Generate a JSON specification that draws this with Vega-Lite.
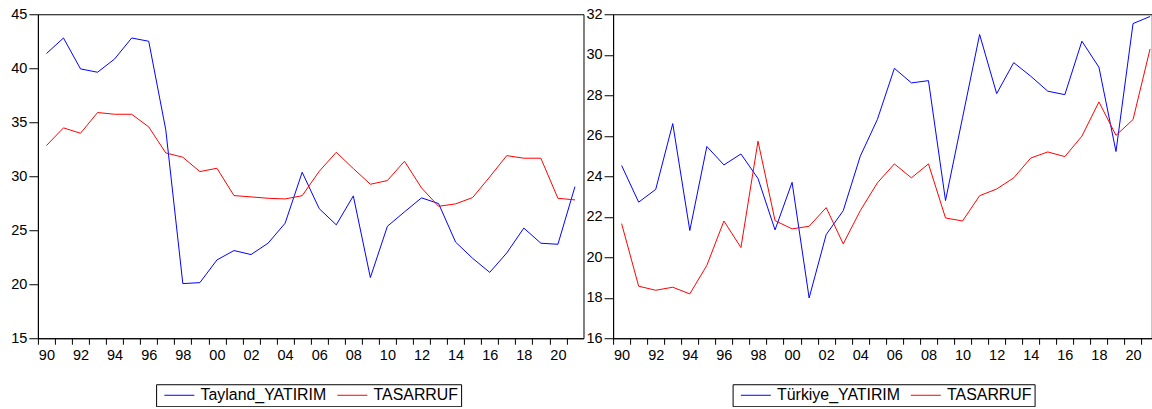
{
  "$schema": "https://vega.github.io/schema/vega-lite/v6.json",
  "padding": {"left": 9.9, "top": 5.25, "right": 0, "bottom": 0},
  "background": "white",
  "spacing": 0.2,
  "config": {
    "font": "Liberation Sans",
    "view": {"stroke": "black", "strokeWidth": 1},
    "axis": {"domainColor": "black", "tickColor": "black", "labelColor": "black", "labelFont": "Liberation Sans", "labelFontSize": 14.5, "grid": false, "title": null, "domainWidth": 1, "tickWidth": 1, "minExtent": 0},
    "legend": {"labelFont": "Liberation Sans", "labelFontSize": 15.9, "labelColor": "black"}
  },
  "datasets": {
    "thai": [
      {"year":1990,"series":"Tayland_YATIRIM","value":41.36},{"year":1991,"series":"Tayland_YATIRIM","value":42.8},{"year":1992,"series":"Tayland_YATIRIM","value":39.94},{"year":1993,"series":"Tayland_YATIRIM","value":39.63},{"year":1994,"series":"Tayland_YATIRIM","value":40.86},{"year":1995,"series":"Tayland_YATIRIM","value":42.8},{"year":1996,"series":"Tayland_YATIRIM","value":42.5},{"year":1997,"series":"Tayland_YATIRIM","value":34.3},{"year":1998,"series":"Tayland_YATIRIM","value":20.06},{"year":1999,"series":"Tayland_YATIRIM","value":20.15},{"year":2000,"series":"Tayland_YATIRIM","value":22.25},{"year":2001,"series":"Tayland_YATIRIM","value":23.12},{"year":2002,"series":"Tayland_YATIRIM","value":22.75},{"year":2003,"series":"Tayland_YATIRIM","value":23.8},{"year":2004,"series":"Tayland_YATIRIM","value":25.65},{"year":2005,"series":"Tayland_YATIRIM","value":30.37},{"year":2006,"series":"Tayland_YATIRIM","value":27.0},{"year":2007,"series":"Tayland_YATIRIM","value":25.5},{"year":2008,"series":"Tayland_YATIRIM","value":28.18},{"year":2009,"series":"Tayland_YATIRIM","value":20.62},{"year":2010,"series":"Tayland_YATIRIM","value":25.37},{"year":2011,"series":"Tayland_YATIRIM","value":26.7},{"year":2012,"series":"Tayland_YATIRIM","value":28.0},{"year":2013,"series":"Tayland_YATIRIM","value":27.47},{"year":2014,"series":"Tayland_YATIRIM","value":23.9},{"year":2015,"series":"Tayland_YATIRIM","value":22.4},{"year":2016,"series":"Tayland_YATIRIM","value":21.1},{"year":2017,"series":"Tayland_YATIRIM","value":22.9},{"year":2018,"series":"Tayland_YATIRIM","value":25.2},{"year":2019,"series":"Tayland_YATIRIM","value":23.8},{"year":2020,"series":"Tayland_YATIRIM","value":23.7},{"year":2021,"series":"Tayland_YATIRIM","value":29.04},
      {"year":1990,"series":"TASARRUF","value":32.84},{"year":1991,"series":"TASARRUF","value":34.48},{"year":1992,"series":"TASARRUF","value":33.98},{"year":1993,"series":"TASARRUF","value":35.9},{"year":1994,"series":"TASARRUF","value":35.74},{"year":1995,"series":"TASARRUF","value":35.74},{"year":1996,"series":"TASARRUF","value":34.57},{"year":1997,"series":"TASARRUF","value":32.16},{"year":1998,"series":"TASARRUF","value":31.76},{"year":1999,"series":"TASARRUF","value":30.43},{"year":2000,"series":"TASARRUF","value":30.74},{"year":2001,"series":"TASARRUF","value":28.21},{"year":2002,"series":"TASARRUF","value":28.09},{"year":2003,"series":"TASARRUF","value":27.96},{"year":2004,"series":"TASARRUF","value":27.9},{"year":2005,"series":"TASARRUF","value":28.2},{"year":2006,"series":"TASARRUF","value":30.46},{"year":2007,"series":"TASARRUF","value":32.22},{"year":2008,"series":"TASARRUF","value":30.71},{"year":2009,"series":"TASARRUF","value":29.26},{"year":2010,"series":"TASARRUF","value":29.6},{"year":2011,"series":"TASARRUF","value":31.39},{"year":2012,"series":"TASARRUF","value":28.92},{"year":2013,"series":"TASARRUF","value":27.22},{"year":2014,"series":"TASARRUF","value":27.44},{"year":2015,"series":"TASARRUF","value":28.03},{"year":2016,"series":"TASARRUF","value":29.94},{"year":2017,"series":"TASARRUF","value":31.91},{"year":2018,"series":"TASARRUF","value":31.67},{"year":2019,"series":"TASARRUF","value":31.67},{"year":2020,"series":"TASARRUF","value":27.96},{"year":2021,"series":"TASARRUF","value":27.81}
    ],
    "turkey": [
      {"year":1990,"series":"Türkiye_YATIRIM","value":24.53},{"year":1991,"series":"Türkiye_YATIRIM","value":22.72},{"year":1992,"series":"Türkiye_YATIRIM","value":23.35},{"year":1993,"series":"Türkiye_YATIRIM","value":26.6},{"year":1994,"series":"Türkiye_YATIRIM","value":21.32},{"year":1995,"series":"Türkiye_YATIRIM","value":25.47},{"year":1996,"series":"Türkiye_YATIRIM","value":24.56},{"year":1997,"series":"Türkiye_YATIRIM","value":25.1},{"year":1998,"series":"Türkiye_YATIRIM","value":23.89},{"year":1999,"series":"Türkiye_YATIRIM","value":21.35},{"year":2000,"series":"Türkiye_YATIRIM","value":23.7},{"year":2001,"series":"Türkiye_YATIRIM","value":17.99},{"year":2002,"series":"Türkiye_YATIRIM","value":21.12},{"year":2003,"series":"Türkiye_YATIRIM","value":22.3},{"year":2004,"series":"Türkiye_YATIRIM","value":24.99},{"year":2005,"series":"Türkiye_YATIRIM","value":26.8},{"year":2006,"series":"Türkiye_YATIRIM","value":29.33},{"year":2007,"series":"Türkiye_YATIRIM","value":28.61},{"year":2008,"series":"Türkiye_YATIRIM","value":28.72},{"year":2009,"series":"Türkiye_YATIRIM","value":22.8},{"year":2010,"series":"Türkiye_YATIRIM","value":26.9},{"year":2011,"series":"Türkiye_YATIRIM","value":31.0},{"year":2012,"series":"Türkiye_YATIRIM","value":28.08},{"year":2013,"series":"Türkiye_YATIRIM","value":29.61},{"year":2014,"series":"Türkiye_YATIRIM","value":28.94},{"year":2015,"series":"Türkiye_YATIRIM","value":28.2},{"year":2016,"series":"Türkiye_YATIRIM","value":28.03},{"year":2017,"series":"Türkiye_YATIRIM","value":30.67},{"year":2018,"series":"Türkiye_YATIRIM","value":29.38},{"year":2019,"series":"Türkiye_YATIRIM","value":25.22},{"year":2020,"series":"Türkiye_YATIRIM","value":31.54},{"year":2021,"series":"Türkiye_YATIRIM","value":31.89},
      {"year":1990,"series":"TASARRUF","value":21.66},{"year":1991,"series":"TASARRUF","value":18.57},{"year":1992,"series":"TASARRUF","value":18.37},{"year":1993,"series":"TASARRUF","value":18.52},{"year":1994,"series":"TASARRUF","value":18.19},{"year":1995,"series":"TASARRUF","value":19.6},{"year":1996,"series":"TASARRUF","value":21.79},{"year":1997,"series":"TASARRUF","value":20.48},{"year":1998,"series":"TASARRUF","value":25.73},{"year":1999,"series":"TASARRUF","value":21.81},{"year":2000,"series":"TASARRUF","value":21.4},{"year":2001,"series":"TASARRUF","value":21.53},{"year":2002,"series":"TASARRUF","value":22.45},{"year":2003,"series":"TASARRUF","value":20.66},{"year":2004,"series":"TASARRUF","value":22.3},{"year":2005,"series":"TASARRUF","value":23.67},{"year":2006,"series":"TASARRUF","value":24.61},{"year":2007,"series":"TASARRUF","value":23.92},{"year":2008,"series":"TASARRUF","value":24.61},{"year":2009,"series":"TASARRUF","value":21.94},{"year":2010,"series":"TASARRUF","value":21.79},{"year":2011,"series":"TASARRUF","value":23.04},{"year":2012,"series":"TASARRUF","value":23.37},{"year":2013,"series":"TASARRUF","value":23.92},{"year":2014,"series":"TASARRUF","value":24.9},{"year":2015,"series":"TASARRUF","value":25.2},{"year":2016,"series":"TASARRUF","value":24.97},{"year":2017,"series":"TASARRUF","value":25.98},{"year":2018,"series":"TASARRUF","value":27.67},{"year":2019,"series":"TASARRUF","value":26.02},{"year":2020,"series":"TASARRUF","value":26.8},{"year":2021,"series":"TASARRUF","value":30.29}
    ]
  },
  "resolve": {"scale": {"color": "independent"}, "legend": {"color": "independent"}},
  "hconcat": [
    {
      "width": 545.6,
      "height": 324,
      "data": {"name": "thai"},
      "mark": {"type": "line", "strokeWidth": 1, "clip": true},
      "encoding": {
        "x": {"field": "year", "type": "quantitative",
          "scale": {"domain": [1989.5, 2021.5], "nice": false, "zero": false},
          "axis": {"values": [1989.5,1990.5,1991.5,1992.5,1993.5,1994.5,1995.5,1996.5,1997.5,1998.5,1999.5,2000.5,2001.5,2002.5,2003.5,2004.5,2005.5,2006.5,2007.5,2008.5,2009.5,2010.5,2011.5,2012.5,2013.5,2014.5,2015.5,2016.5,2017.5,2018.5,2019.5,2020.5],
            "labelExpr": "(datum.value < 2021 && (datum.value + 0.5) % 2 == 0) ? substring(toString(datum.value + 0.5), 2, 4) : ''",
            "labelOffset": 8.5, "tickSize": 6, "labelPadding": 4, "labelOverlap": false, "labelFlush": false, "labelAlign": "center"}},
        "y": {"field": "value", "type": "quantitative",
          "scale": {"domain": [15, 45], "nice": false, "zero": false},
          "axis": {"values": [15,20,25,30,35,40,45], "tickSize": 9, "labelPadding": 2}},
        "color": {"field": "series", "type": "nominal", "sort": null,
          "scale": {"domain": ["Tayland_YATIRIM", "TASARRUF"], "range": ["#0000FF", "#FF0000"]},
          "legend": {"title": null, "orient": "none", "legendX": 118.2, "legendY": 370.0, "direction": "horizontal",
            "strokeColor": "black", "padding": 3, "symbolType": "M-2.14,0H2.14", "symbolSize": 196, "symbolStrokeWidth": 1,
            "symbolOffset": 12.3, "labelOffset": 13.3, "columnPadding": 5,
            "labelExpr": "datum.label == 'TASARRUF' ? datum.label + ' ' : datum.label"}}
      }
    },
    {
      "width": 538.7,
      "height": 324,
      "data": {"name": "turkey"},
      "mark": {"type": "line", "strokeWidth": 1, "clip": true},
      "encoding": {
        "x": {"field": "year", "type": "quantitative",
          "scale": {"domain": [1989.5, 2021.1], "nice": false, "zero": false},
          "axis": {"values": [1989.5,1990.5,1991.5,1992.5,1993.5,1994.5,1995.5,1996.5,1997.5,1998.5,1999.5,2000.5,2001.5,2002.5,2003.5,2004.5,2005.5,2006.5,2007.5,2008.5,2009.5,2010.5,2011.5,2012.5,2013.5,2014.5,2015.5,2016.5,2017.5,2018.5,2019.5,2020.5],
            "labelExpr": "(datum.value < 2021 && (datum.value + 0.5) % 2 == 0) ? substring(toString(datum.value + 0.5), 2, 4) : ''",
            "labelOffset": 8.5, "tickSize": 6, "labelPadding": 4, "labelOverlap": false, "labelFlush": false, "labelAlign": "center"}},
        "y": {"field": "value", "type": "quantitative",
          "scale": {"domain": [16, 32], "nice": false, "zero": false},
          "axis": {"values": [16,18,20,22,24,26,28,30,32], "tickSize": 9, "labelPadding": 2}},
        "color": {"field": "series", "type": "nominal", "sort": null,
          "scale": {"domain": ["Türkiye_YATIRIM", "TASARRUF"], "range": ["#0000FF", "#FF0000"]},
          "legend": {"title": null, "orient": "none", "legendX": 119.5, "legendY": 370.0, "direction": "horizontal",
            "strokeColor": "black", "padding": 3, "symbolType": "M-2.14,0H2.14", "symbolSize": 196, "symbolStrokeWidth": 1,
            "symbolOffset": 12.3, "labelOffset": 13.3, "columnPadding": 5,
            "labelExpr": "datum.label == 'TASARRUF' ? datum.label + ' ' : datum.label"}}
      }
    }
  ]
}
